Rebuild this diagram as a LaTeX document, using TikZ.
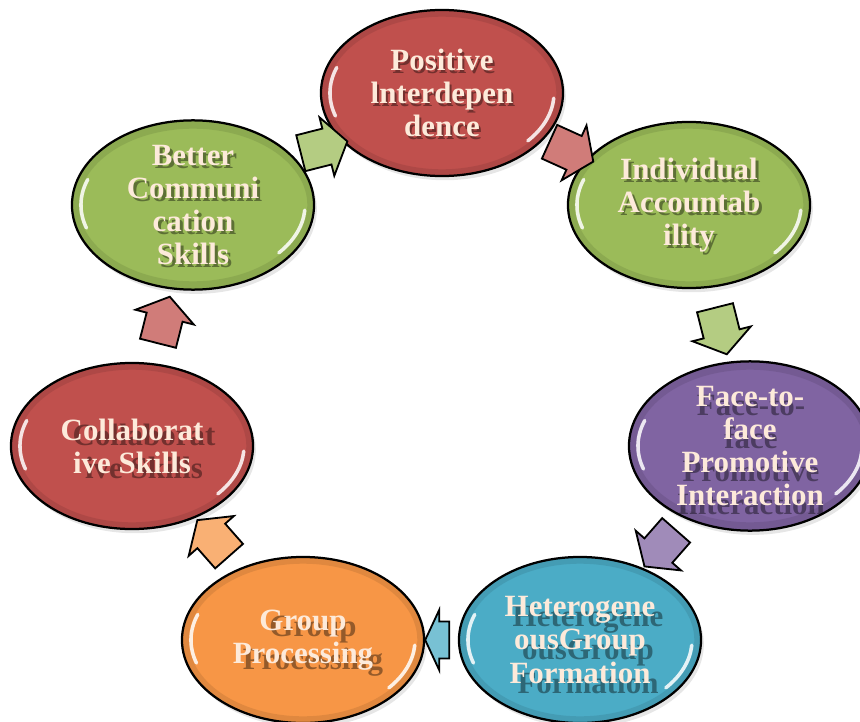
\documentclass[tikz,border=0pt]{standalone}
\usepackage{fontspec}
\setmainfont{Liberation Serif}
\usepackage{xcolor}
\usepackage{tikz}
\usetikzlibrary{shapes,arrows,positioning,shapes.geometric,calc,shadows}
\definecolor{stagered}{RGB}{192,80,77}
\definecolor{stagegreen}{RGB}{155,187,89}
\definecolor{stagepurple}{RGB}{128,100,162}
\definecolor{stageblue}{RGB}{75,172,198}
\definecolor{stageorange}{RGB}{247,150,70}
\definecolor{cream}{RGB}{253,234,218}

\begin{document}
\begin{tikzpicture}[
    x=0.025cm, y=-0.025cm,
    ghost/.style={align=center, text=black, text opacity=0.4, font=\bfseries\fontsize{22pt}{23.5pt}\selectfont},
    stage/.style n args={3}{ellipse, draw=black, line width=1.6pt, fill=#1, minimum width=6.05cm, minimum height=4.15cm, inner sep=0pt, align=center, text=cream, font=\bfseries\fontsize{22pt}{23.5pt}\selectfont,
        drop shadow={opacity=0.2, shadow xshift=2pt, shadow yshift=-3pt},
        path picture={
            \draw[#1!70!black, opacity=0.3, line width=7pt] (path picture bounding box.center) ellipse [x radius=2.98cm, y radius=2.03cm];
            \draw[white, opacity=0.85, line width=2.5pt, line cap=round] ($(path picture bounding box.center)+(160:2.8cm and 1.86cm)$) arc[start angle=160, end angle=198, x radius=2.8cm, y radius=1.86cm];
            \draw[white, opacity=0.85, line width=2.5pt, line cap=round] ($(path picture bounding box.center)+(-40:2.8cm and 1.86cm)$) arc[start angle=-40, end angle=-4, x radius=2.8cm, y radius=1.86cm];
            \node[ghost] at ($(path picture bounding box.center)+(#2)$) {#3};
        }},
    blockarrow/.style={single arrow, draw=black, line width=1.3pt, fill=#1!75!white, minimum height=1.2cm, inner xsep=0.1cm, inner ysep=0.44cm, single arrow head extend=0.29cm, single arrow tip angle=110, sloped, allow upside down}
]
\useasboundingbox (0,0) rectangle (860,722);
\clip (0,0) rectangle (860,722);

% Stages around the ring
\node[stage={stagered}{2,3}{Positive\\lnterdepen\\dence}] (posint) at (442,93) {Positive\\lnterdepen\\dence};
\node[stage={stagegreen}{3,3}{Individual\\Accountab\\ility}] (indacc) at (689,205) {Individual\\Accountab\\ility};
\node[stage={stagepurple}{1,9}{Face-to-\\face\\Promotive\\Interaction}] (facetoface) at (750,446) {Face-to-\\face\\Promotive\\Interaction};
\node[stage={stageblue}{8,10}{Heterogene\\ousGroup\\Formation}] (hetgroup) at (580,640) {Heterogene\\ousGroup\\Formation};
\node[stage={stageorange}{10,6}{Group\\Processing}] (grpproc) at (303,640) {Group\\Processing};
\node[stage={stagered}{12,5}{Collaborat\\ive Skills}] (collab) at (132,446) {Collaborat\\ive Skills};
\node[stage={stagegreen}{3,3}{Better\\Communi\\cation\\Skills}] (bettercomm) at (193,205) {Better\\Communi\\cation\\Skills};

% Arrows between stages
\path (bettercomm) -- node[blockarrow=stagegreen, rotate=-10] (arr1) {} (posint);
\path (posint) -- node[blockarrow=stagered] (arr2) {} (indacc);
\path (indacc) -- node[blockarrow=stagegreen] (arr3) {} (facetoface);
\path (facetoface) -- node[blockarrow=stagepurple] (arr4) {} (hetgroup);
\path (hetgroup) -- node[blockarrow=stageblue, minimum height=0.6cm, single arrow tip angle=130] (arr5) {} (grpproc);
\path (grpproc) -- node[blockarrow=stageorange] (arr6) {} (collab);
\path (collab) -- node[blockarrow=stagered] (arr7) {} (bettercomm);

\end{tikzpicture}
\end{document}
